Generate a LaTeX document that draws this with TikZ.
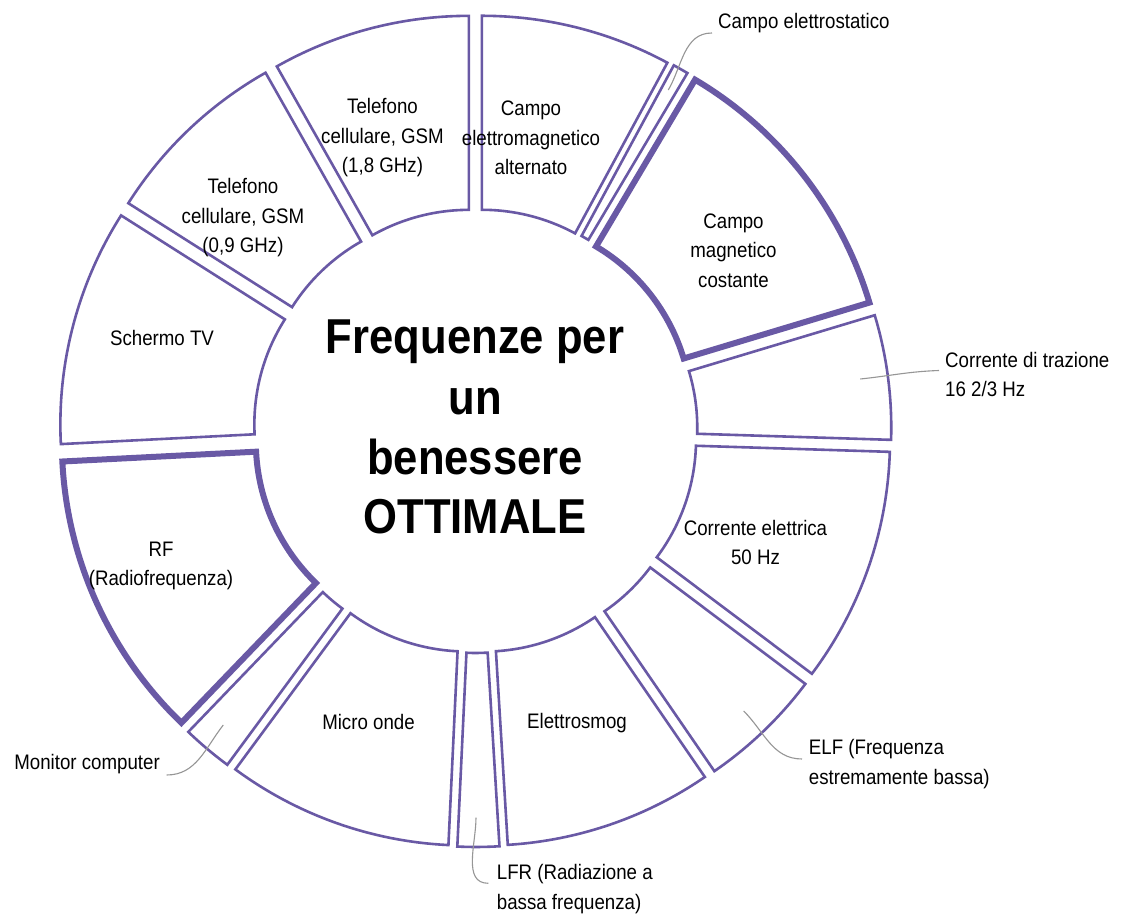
\documentclass[tikz,border=0pt]{standalone}
\usepackage{fontspec}
\setmainfont{Liberation Sans}[FakeStretch=0.89]
\usetikzlibrary{calc}
\definecolor{ring}{RGB}{105,89,165}
\definecolor{lead}{RGB}{150,150,150}
\newcommand\ringseg[3]{%
  \pgfmathsetmacro\segmid{(#1+#2)/2}%
  \draw[#3,shift={(\segmid:26pt)}] (#1:390pt) arc[start angle=#1,end angle=#2,radius=390pt]
    -- (#2:196pt) arc[start angle=#2,end angle=#1,radius=196pt] -- cycle;
}
\begin{document}
\begin{tikzpicture}[x=1pt,y=1pt,
  seg/.style={draw=ring,line width=2.6pt,fill=white,line join=miter},
  segthick/.style={draw=ring,line width=6pt,fill=white,line join=miter},
  lbl/.style={font=\fontsize{21}{29.5}\selectfont,align=center,inner sep=0pt,text=black},
  outlbl/.style={font=\fontsize{21}{29.5}\selectfont,align=left,inner sep=0pt,text=black},
  leader/.style={draw=lead,line width=1.1pt},
  ttl/.style={font=\fontsize{49}{60}\selectfont\bfseries,inner sep=0pt,anchor=base,text=black}]
\useasboundingbox (-475.5,-484) rectangle (646.5,431);
\fill[white] (-475.5,-484) rectangle (646.5,431);

% ring segments (exploded donut)
\ringseg{-36.9}{-1.8}{seg}
\ringseg{-1.8}{16.75}{seg}
\ringseg{16.75}{59.3}{segthick}
\ringseg{59.3}{61.6}{seg}
\ringseg{61.6}{90}{seg}
\ringseg{90}{119.5}{seg}
\ringseg{119.5}{147.6}{seg}
\ringseg{147.6}{182.9}{seg}
\ringseg{182.9}{226.1}{segthick}
\ringseg{226.1}{233.6}{seg}
\ringseg{233.6}{267.3}{seg}
\ringseg{267.3}{273.5}{seg}
\ringseg{273.5}{304.5}{seg}
\ringseg{304.5}{323.1}{seg}

% labels inside segments
\node[lbl] (tel18) at (-93,293) {Telefono\\cellulare, GSM\\(1,8 GHz)};
\node[lbl] (cea) at (55.5,293) {Campo\\elettromagnetico\\alternato};
\node[lbl] (tel09) at (-232.5,213) {Telefono\\cellulare, GSM\\(0,9 GHz)};
\node[lbl] (tv) at (-313.5,93) {Schermo TV};
\node[lbl] (rf) at (-314.5,-135) {RF\\(Radiofrequenza)};
\node[lbl] (mo) at (-107,-291) {Micro onde};
\node[lbl] (es) at (101.5,-292) {Elettrosmog};
\node[lbl] (ce) at (280,-111.5) {Corrente elettrica\\50 Hz};
\node[lbl] (cmc) at (258,180.5) {Campo\\magnetico\\costante};

% title
\node[ttl] (t1) at (-0.5,77.5) {Frequenze per};
\node[ttl] (t2) at (-0.5,16.5) {un};
\node[ttl] (t3) at (-0.5,-43.5) {benessere};
\node[ttl] (t4) at (-0.5,-103) {OTTIMALE};

% outside labels with leaders
\coordinate (pE) at (192.8,341);
\node[outlbl,anchor=west] (lE) at (242.5,408) {Campo elettrostatico};
\draw[leader] (pE) to[out=60,in=180] ([shift={(-6,-10)}]lE.west);

\coordinate (pT) at (384.8,52);
\node[outlbl,anchor=west] (lT) at (469.5,56.5) {Corrente di trazione\\16 2/3 Hz};
\draw[leader] (pT) to[out=6,in=182] ([shift={(-6,4)}]lT.west);

\coordinate (pF) at (268.2,-280);
\node[outlbl,anchor=west] (lF) at (333.2,-333.2) {ELF (Frequenza\\estremamente bassa)};
\draw[leader] (pF) to[out=-45,in=180] ([shift={(-6.7,5.2)}]lF.west);

\coordinate (pL) at (0.5,-386.7);
\node[outlbl,anchor=west] (lL) at (21.2,-458.2) {LFR (Radiazione a\\bassa frequenza)};
\draw[leader] (pL) to[out=-90,in=180] ([shift={(-8.4,5.9)}]lL.west);

\coordinate (pM) at (-252.2,-294);
\node[outlbl,anchor=east] (lM) at (-315.5,-333) {Monitor computer};
\draw[leader] (pM) to[out=-128,in=0] ([shift={(6.7,-11)}]lM.east);
\end{tikzpicture}
\end{document}
